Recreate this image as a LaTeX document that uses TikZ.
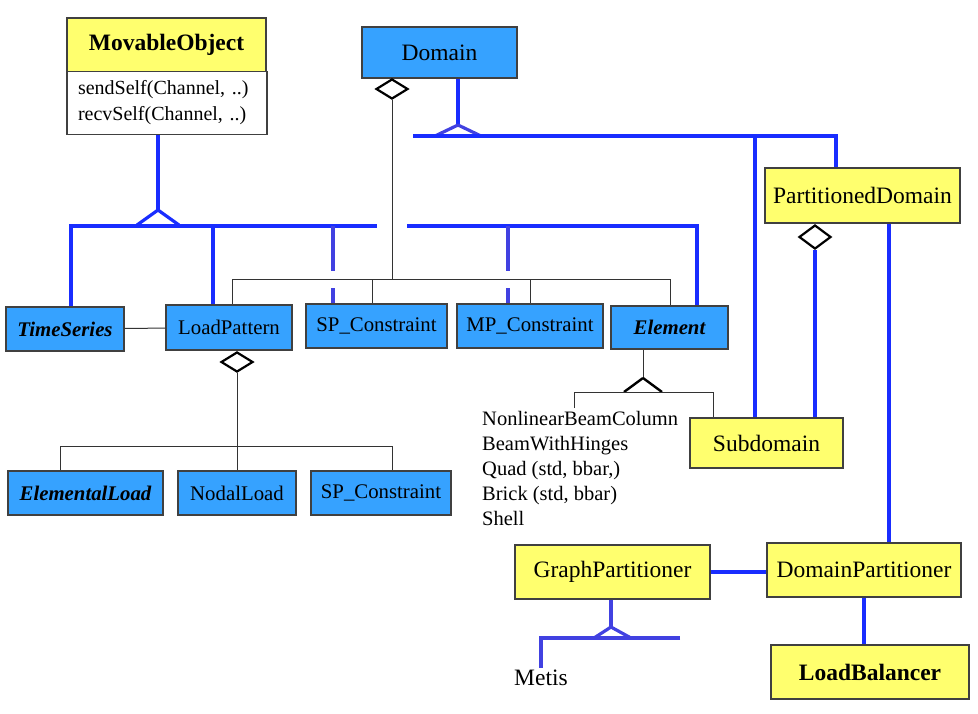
\documentclass[tikz,border=0pt]{standalone}
\usepackage{fontspec}
\setmainfont{Liberation Serif}
\usepackage{tikz}
\usetikzlibrary{shapes.geometric}

\definecolor{clsblue}{RGB}{54,162,255}
\definecolor{clsyel}{RGB}{255,255,110}
\definecolor{inhblue}{RGB}{25,45,255}
\definecolor{inhlight}{RGB}{65,65,225}

\newcommand{\clsfont}{\fontsize{20.8}{25}\selectfont}
\newcommand{\bigclsfont}{\fontsize{23.5}{28}\selectfont}
\newcommand{\opsfont}{\fontsize{20}{26}\selectfont}
\newcommand{\listfont}{\fontsize{20.5}{25}\selectfont}

\tikzset{
  cls/.style={draw=black!75, line width=1.2pt, fill=clsblue, font=\clsfont, inner sep=0pt},
  yel/.style={cls, fill=clsyel, font=\bigclsfont},
  agg/.style={diamond, draw=black, line width=2.2pt, fill=white, minimum width=32, minimum height=20, inner sep=0pt},
  inh/.style={draw=inhblue, line width=3.2pt},
  inhlt/.style={draw=inhlight, line width=3.2pt},
  comp/.style={draw=black!80, line width=1pt}
}

\begin{document}
\begin{tikzpicture}[x=1pt, y=-1pt]
\useasboundingbox (0,0) rectangle (978,713);

% classes
\node[yel, font=\bigclsfont\bfseries, minimum width=199, minimum height=54] (mo) at (166.5,45) {MovableObject};
\node[draw=black!75, line width=1.2pt, fill=white, minimum height=63, text width=178, inner xsep=11, align=left, font=\opsfont] (ops) at (167,103) {sendSelf(Channel, ..)\\recvSelf(Channel, ..)};
\node[cls, font=\bigclsfont, minimum width=155, minimum height=51] (dom) at (439.5,52.5) {Domain};

\node[cls, font=\clsfont\bfseries\itshape, minimum width=118, minimum height=44] (ts) at (65,329) {TimeSeries};
\node[cls, minimum width=126, minimum height=45] (lp) at (229,327.5) {LoadPattern};
\node[cls, minimum width=141, minimum height=44] (spc) at (376.5,326) {SP\_Constraint};
\node[cls, minimum width=146, minimum height=44] (mpc) at (530,326) {MP\_Constraint};
\node[cls, font=\clsfont\bfseries\itshape, minimum width=117, minimum height=43] (ele) at (669.5,327.5) {Element};

\node[cls, font=\clsfont\bfseries\itshape, minimum width=155, minimum height=44] (el) at (85.5,493) {ElementalLoad};
\node[cls, minimum width=118, minimum height=44] (nl) at (237,493) {NodalLoad};
\node[cls, minimum width=140, minimum height=44] (spl) at (381,493) {SP\_Constraint};

\node[yel, minimum width=195, minimum height=55] (pd) at (862.5,195.5) {PartitionedDomain};
\node[yel, minimum width=153, minimum height=50] (sub) at (766.5,443) {Subdomain};
\node[yel, minimum width=195, minimum height=54] (gp) at (612.5,572) {GraphPartitioner};
\node[yel, minimum width=194, minimum height=54] (dp) at (864,570) {DomainPartitioner};
\node[yel, font=\bigclsfont\bfseries, minimum width=198, minimum height=54] (lb) at (870,672) {LoadBalancer};

\node[anchor=north west, inner xsep=0pt, inner ysep=3pt, align=left, font=\listfont] (elist) at (482,408) {NonlinearBeamColumn\\BeamWithHinges\\Quad (std, bbar,)\\Brick (std, bbar)\\Shell};
\node[font=\bigclsfont, inner sep=2pt] (metis) at (541,678) {Metis};

% MovableObject subclasses
\coordinate (moT) at (158,210);
\coordinate (busL) at (71,226);
\coordinate (busM) at (377,226);
\coordinate (busR) at (407,226);
\coordinate (busE) at (697,226);
\coordinate (jLP) at (213,226);
\coordinate (jSP) at (333,226);
\coordinate (jMP) at (508,226);

\draw[inh] (ops.south -| moT) -- (moT);
\draw[inh] (moT) -- ++(-21,15) (moT) -- ++(21,15);
\draw[inh] (ts.north -| busL) -- (busL) -- (busM);
\draw[inh] (busR) -- (busE) -- (busE |- ele.north);
\draw[inh] (jLP) -- (jLP |- lp.north);
\foreach \j/\n in {jSP/spc, jMP/mpc}
  \draw[inhlt] (\j) -- ++(0,45) ++(0,17) -- (\j |- \n.north);

% Domain holds
\node[agg] (dd) at (392,89) {};
\coordinate (hL) at (232,279);
\coordinate (hS) at (372,279);
\coordinate (hM) at (530,279);
\coordinate (hR) at (670,279);
\draw[comp] (dd.south) -- (dd.south |- hL);
\draw[comp] (hL |- lp.north) -- (hL) -- (hR) -- (hR |- ele.north);
\draw[comp] (hS) -- (hS |- spc.north);
\draw[comp] (hM) -- (hM |- mpc.north);
\draw[comp] (ts) -- (lp);

% Domain subclasses
\coordinate (domT) at (458,125);
\coordinate (dbL) at (413,136);
\coordinate (dbR) at (836,136);
\coordinate (jSub) at (755,136);
\draw[inh] (dom.south -| domT) -- (domT);
\draw[inhlt] (domT) -- ++(-23,11) (domT) -- ++(23,11);
\draw[inh] (dbL) -- (dbR) -- (dbR |- pd.north);
\draw[inh] (jSub) -- (jSub |- sub.north);

% PartitionedDomain
\node[agg, minimum height=24] (pdd) at (815,237) {};
\draw[inh] (pdd.south) -- (pdd.south |- sub.north);
\coordinate (jDP) at (889,223);
\draw[inh] (jDP |- pd.south) -- (jDP |- dp.north);

% LoadPattern holds
\node[agg] (lpd) at (237,362) {};
\coordinate (lL) at (60,446);
\coordinate (lR) at (392,446);
\draw[comp] (lpd.south) -- (lpd.south |- lL);
\draw[comp] (el.north -| lL) -- (lL) -- (lR) -- (lR |- spl.north);
\draw[comp] (nl.north |- lL) -- (nl.north);

% Element subclasses
\coordinate (eT) at (643,378);
\coordinate (eL) at (574,392);
\coordinate (eR) at (713,392);
\draw[comp] (ele.south -| eT) -- (eT);
\draw[draw=black, line width=2.4pt] (eT) -- ++(-19,14) (eT) -- ++(19,14);
\draw[comp] (eL |- elist.north) -- (eL) -- (eR) -- (eR |- sub.north);

% partitioners
\draw[inh] (gp.east) -- (gp.east -| dp.west);
\draw[inh] (dp.south) -- (dp.south |- lb.north);
\coordinate (gT) at (611,627);
\coordinate (gL) at (541,638);
\coordinate (gR) at (680,638);
\draw[inhlt] (gp.south -| gT) -- (gT);
\draw[inhlt] (gT) -- ++(-17,11) (gT) -- ++(20,11);
\draw[inhlt] (gR) -- (gL) -- (gL |- metis.north);
\end{tikzpicture}
\end{document}
